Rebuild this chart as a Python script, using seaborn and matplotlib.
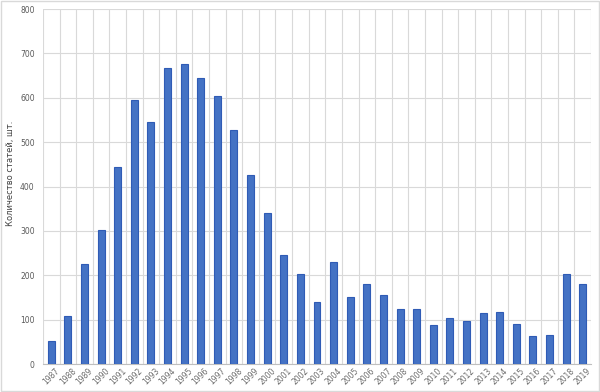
import matplotlib
matplotlib.use("Agg")
import matplotlib.pyplot as plt
import seaborn as sns
import numpy as np
import pandas as pd
from matplotlib.patches import Rectangle

years = [str(y) for y in range(1987, 2020)]
counts = [52, 108, 225, 303, 443, 595, 545, 668, 675, 644, 603, 527, 425, 340,
          246, 203, 140, 230, 151, 180, 155, 125, 125, 88, 104, 97, 114, 117,
          90, 64, 65, 203, 181]
y_label = "Количество статей, шт."
y_ticks = [0, 100, 200, 300, 400, 500, 600, 700, 800]

df = pd.DataFrame({"year": years, "count": counts})

sns.set_theme(style="white")
plt.rcParams['font.family'] = ['DejaVu Sans']

fig = plt.figure(figsize=(6, 3.92), dpi=100)
ax = fig.add_axes([0.0717, 0.0714, 0.9133, 0.9056])

sns.barplot(data=df, x="year", y="count", order=years, color="#4472C4",
            width=0.42, edgecolor="#2F5BB5", linewidth=0.8, saturation=1, ax=ax, zorder=3)

ax.set_xlim(-0.5, len(years) - 0.5)
ax.set_ylim(0, 800)
ax.set_yticks(y_ticks)
ax.set_yticklabels([str(t) for t in y_ticks], fontsize=5.5, color="#595959")
ax.set_xticks(range(len(years)))
ax.set_xticklabels(years, rotation=45, fontsize=5.5, color="#6b6b6b")
ax.set_xticks(np.arange(-0.5, len(years), 1.0), minor=True)
ax.tick_params(axis='x', which='both', length=0, pad=2)
ax.tick_params(axis='y', length=0, pad=6)
ax.grid(axis='y', which='major', color="#D9D9D9", linewidth=0.8, zorder=0)
ax.grid(axis='x', which='minor', color="#D9D9D9", linewidth=0.8, zorder=0)
ax.set_axisbelow(True)
for s in ["top", "right", "left"]:
    ax.spines[s].set_visible(False)
ax.spines["bottom"].set_color("#BFBFBF")
ax.spines["bottom"].set_linewidth(0.8)
ax.set_xlabel("")
ax.set_ylabel(y_label, fontsize=6, color="#404040")
ax.yaxis.set_label_coords(-0.052, 0.538)

fig.patches.append(Rectangle((0.002, 0.003), 0.996, 0.994, transform=fig.transFigure,
                             fill=False, edgecolor="#D9D9D9", linewidth=1.0))

fig.savefig("out.png", dpi=100)
